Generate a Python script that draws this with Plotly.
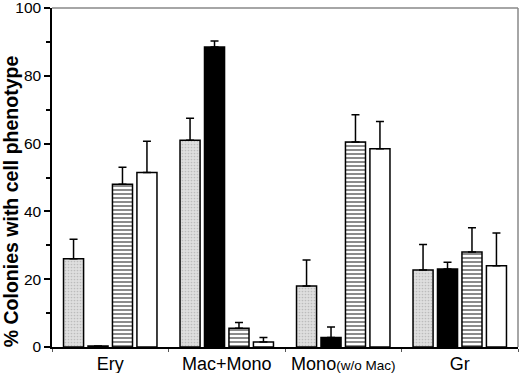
import plotly.graph_objects as go

categories = ["Ery", "Mac+Mono", "Mono<span style=\"font-size:13.5px\">(w/o Mac)</span>", "Gr"]
series_names = ["Group A", "Group B", "Group C", "Group D"]
values = [
    [26.0, 61.0, 18.0, 22.7],   # gray stippled
    [0.3, 88.5, 2.8, 23.0],     # black
    [48.0, 5.5, 60.5, 28.0],    # horizontal stripes
    [51.5, 1.5, 58.5, 24.0],    # white
]
errors = [
    [5.8, 6.5, 7.7, 7.5],
    [0.0, 1.8, 3.1, 2.0],
    [5.0, 1.7, 8.0, 7.2],
    [9.2, 1.3, 8.0, 9.6],
]
y_ticks = [0, 20, 40, 60, 80, 100]

styles = [
    dict(color="#d9d9d9", pattern=dict(shape=".", fgcolor="#9a9a9a", bgcolor="#dedede", size=3, solidity=0.25)),
    dict(color="black"),
    dict(color="white", pattern=dict(shape="-", fgcolor="black", bgcolor="white", size=4, solidity=0.45)),
    dict(color="white"),
]

fig = go.Figure()
for name, vals, errs, st in zip(series_names, values, errors, styles):
    fig.add_trace(go.Bar(
        x=categories, y=vals, name=name,
        marker=dict(**st, line=dict(color="black", width=1.5)),
        error_y=dict(type="data", symmetric=False, array=errs,
                     arrayminus=[0] * len(errs), color="black",
                     thickness=1.5, width=4),
    ))

fig.update_layout(
    width=520, height=373,
    margin=dict(l=52, r=2, t=8, b=26),
    paper_bgcolor="white", plot_bgcolor="white",
    barmode="group", bargap=0.16, bargroupgap=0.18,
    showlegend=False,
    font=dict(family="Liberation Sans, Arial, sans-serif", color="black"),
    xaxis=dict(showline=True, linecolor="black", linewidth=1.5,
               ticks="outside", tickson="boundaries", ticklen=3,
               tickcolor="#555555", tickfont=dict(size=18),
               showgrid=False, zeroline=False, automargin=False,
               ticklabeloverflow="allow"),
    yaxis=dict(range=[0, 100], tickvals=y_ticks, showline=True,
               linecolor="black", linewidth=1.5, ticks="outside",
               ticklen=6, tickwidth=1.5, tickcolor="black",
               tickfont=dict(size=15.5), showgrid=False, zeroline=False,
               minor=dict(ticks="outside", ticklen=4, tickwidth=1.5,
                          tickcolor="black", dtick=10),
               automargin=False, ticklabeloverflow="allow"),
    shapes=[
        dict(type="line", xref="paper", yref="paper", x0=0, x1=1, y0=1, y1=1,
             line=dict(color="#888888", width=1.5)),
        dict(type="line", xref="paper", yref="paper", x0=1, x1=1, y0=0, y1=1,
             line=dict(color="#888888", width=1.5)),
    ],
    annotations=[
        dict(text="<b>% Colonies with cell phenotype</b>", textangle=-90,
             xref="paper", yref="paper", x=-0.088, y=0.43, xanchor="center",
             yanchor="middle", showarrow=False, font=dict(size=19.5)),
    ],
)

fig.write_html("out.html", config={"displayModeBar": False},
               post_script="document.body.style.margin='0px';")
